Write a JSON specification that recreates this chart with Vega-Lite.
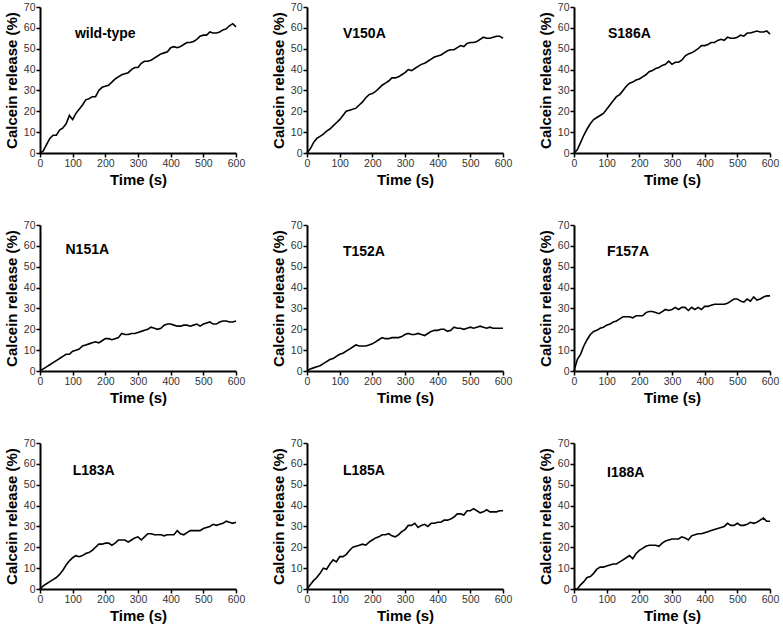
{
"$schema": "https://vega.github.io/schema/vega-lite/v6.json",
"background": "white",
"padding": {"left": 4, "top": 2, "right": 4, "bottom": 0},
"datasets": {"d": [
{"m":"wild-type","t":0,"v":0},{"m":"wild-type","t":10,"v":1},{"m":"wild-type","t":20,"v":4},{"m":"wild-type","t":30,"v":7},{"m":"wild-type","t":40,"v":8.5},{"m":"wild-type","t":50,"v":8.5},{"m":"wild-type","t":60,"v":11},{"m":"wild-type","t":70,"v":12},{"m":"wild-type","t":80,"v":14},{"m":"wild-type","t":90,"v":18},{"m":"wild-type","t":100,"v":16},{"m":"wild-type","t":110,"v":19},{"m":"wild-type","t":120,"v":21},{"m":"wild-type","t":130,"v":23},{"m":"wild-type","t":140,"v":25.5},{"m":"wild-type","t":150,"v":26},{"m":"wild-type","t":160,"v":27},{"m":"wild-type","t":170,"v":27},{"m":"wild-type","t":180,"v":30},{"m":"wild-type","t":190,"v":31.5},{"m":"wild-type","t":200,"v":32},{"m":"wild-type","t":210,"v":32.5},{"m":"wild-type","t":220,"v":34},{"m":"wild-type","t":230,"v":35.5},{"m":"wild-type","t":240,"v":36.5},{"m":"wild-type","t":250,"v":37.5},{"m":"wild-type","t":260,"v":38},{"m":"wild-type","t":270,"v":38.5},{"m":"wild-type","t":280,"v":40},{"m":"wild-type","t":290,"v":41},{"m":"wild-type","t":300,"v":41},{"m":"wild-type","t":310,"v":43},{"m":"wild-type","t":320,"v":44},{"m":"wild-type","t":330,"v":44},{"m":"wild-type","t":340,"v":44.5},{"m":"wild-type","t":350,"v":45.5},{"m":"wild-type","t":360,"v":46.5},{"m":"wild-type","t":370,"v":47.5},{"m":"wild-type","t":380,"v":48},{"m":"wild-type","t":390,"v":48.5},{"m":"wild-type","t":400,"v":50.5},{"m":"wild-type","t":410,"v":51},{"m":"wild-type","t":420,"v":50.5},{"m":"wild-type","t":430,"v":51},{"m":"wild-type","t":440,"v":52},{"m":"wild-type","t":450,"v":53},{"m":"wild-type","t":460,"v":53},{"m":"wild-type","t":470,"v":53.5},{"m":"wild-type","t":480,"v":54.5},{"m":"wild-type","t":490,"v":56},{"m":"wild-type","t":500,"v":56.5},{"m":"wild-type","t":510,"v":56.5},{"m":"wild-type","t":520,"v":58},{"m":"wild-type","t":530,"v":57.5},{"m":"wild-type","t":540,"v":57.5},{"m":"wild-type","t":550,"v":58},{"m":"wild-type","t":560,"v":59},{"m":"wild-type","t":570,"v":59.5},{"m":"wild-type","t":580,"v":61},{"m":"wild-type","t":590,"v":62},{"m":"wild-type","t":600,"v":60.5},
{"m":"V150A","t":0,"v":0},{"m":"V150A","t":10,"v":2},{"m":"V150A","t":20,"v":5},{"m":"V150A","t":30,"v":7},{"m":"V150A","t":40,"v":8},{"m":"V150A","t":50,"v":9},{"m":"V150A","t":60,"v":10.5},{"m":"V150A","t":70,"v":11.5},{"m":"V150A","t":80,"v":13},{"m":"V150A","t":90,"v":14.5},{"m":"V150A","t":100,"v":16},{"m":"V150A","t":110,"v":18},{"m":"V150A","t":120,"v":20},{"m":"V150A","t":130,"v":20.5},{"m":"V150A","t":140,"v":21},{"m":"V150A","t":150,"v":21.5},{"m":"V150A","t":160,"v":23},{"m":"V150A","t":170,"v":24.5},{"m":"V150A","t":180,"v":26.5},{"m":"V150A","t":190,"v":28},{"m":"V150A","t":200,"v":28.5},{"m":"V150A","t":210,"v":29.5},{"m":"V150A","t":220,"v":31},{"m":"V150A","t":230,"v":32.5},{"m":"V150A","t":240,"v":33.5},{"m":"V150A","t":250,"v":34.5},{"m":"V150A","t":260,"v":36},{"m":"V150A","t":270,"v":36},{"m":"V150A","t":280,"v":36.5},{"m":"V150A","t":290,"v":37.5},{"m":"V150A","t":300,"v":38.5},{"m":"V150A","t":310,"v":40},{"m":"V150A","t":320,"v":39.5},{"m":"V150A","t":330,"v":40.5},{"m":"V150A","t":340,"v":41.5},{"m":"V150A","t":350,"v":42.5},{"m":"V150A","t":360,"v":43},{"m":"V150A","t":370,"v":44},{"m":"V150A","t":380,"v":45},{"m":"V150A","t":390,"v":46},{"m":"V150A","t":400,"v":46.5},{"m":"V150A","t":410,"v":47},{"m":"V150A","t":420,"v":48},{"m":"V150A","t":430,"v":49},{"m":"V150A","t":440,"v":49.5},{"m":"V150A","t":450,"v":49.5},{"m":"V150A","t":460,"v":50.5},{"m":"V150A","t":470,"v":51.5},{"m":"V150A","t":480,"v":51},{"m":"V150A","t":490,"v":52.5},{"m":"V150A","t":500,"v":53},{"m":"V150A","t":510,"v":53},{"m":"V150A","t":520,"v":53.5},{"m":"V150A","t":530,"v":54.5},{"m":"V150A","t":540,"v":55.5},{"m":"V150A","t":550,"v":55},{"m":"V150A","t":560,"v":55},{"m":"V150A","t":570,"v":55.5},{"m":"V150A","t":580,"v":56},{"m":"V150A","t":590,"v":56},{"m":"V150A","t":600,"v":55},
{"m":"S186A","t":0,"v":0},{"m":"S186A","t":10,"v":1.5},{"m":"S186A","t":20,"v":5},{"m":"S186A","t":30,"v":8.5},{"m":"S186A","t":40,"v":11.5},{"m":"S186A","t":50,"v":14},{"m":"S186A","t":60,"v":16},{"m":"S186A","t":70,"v":17},{"m":"S186A","t":80,"v":18},{"m":"S186A","t":90,"v":19},{"m":"S186A","t":100,"v":21},{"m":"S186A","t":110,"v":23},{"m":"S186A","t":120,"v":25},{"m":"S186A","t":130,"v":27},{"m":"S186A","t":140,"v":28},{"m":"S186A","t":150,"v":30},{"m":"S186A","t":160,"v":32},{"m":"S186A","t":170,"v":33.5},{"m":"S186A","t":180,"v":34},{"m":"S186A","t":190,"v":35},{"m":"S186A","t":200,"v":35.5},{"m":"S186A","t":210,"v":36.5},{"m":"S186A","t":220,"v":37.5},{"m":"S186A","t":230,"v":39},{"m":"S186A","t":240,"v":39.5},{"m":"S186A","t":250,"v":40.5},{"m":"S186A","t":260,"v":41},{"m":"S186A","t":270,"v":42},{"m":"S186A","t":280,"v":42.5},{"m":"S186A","t":290,"v":44},{"m":"S186A","t":300,"v":42.5},{"m":"S186A","t":310,"v":43.5},{"m":"S186A","t":320,"v":43.5},{"m":"S186A","t":330,"v":44.5},{"m":"S186A","t":340,"v":46.5},{"m":"S186A","t":350,"v":47.5},{"m":"S186A","t":360,"v":48},{"m":"S186A","t":370,"v":49},{"m":"S186A","t":380,"v":50},{"m":"S186A","t":390,"v":51.5},{"m":"S186A","t":400,"v":51.5},{"m":"S186A","t":410,"v":52},{"m":"S186A","t":420,"v":53},{"m":"S186A","t":430,"v":53},{"m":"S186A","t":440,"v":54},{"m":"S186A","t":450,"v":54.5},{"m":"S186A","t":460,"v":54},{"m":"S186A","t":470,"v":55.5},{"m":"S186A","t":480,"v":55},{"m":"S186A","t":490,"v":55},{"m":"S186A","t":500,"v":55.5},{"m":"S186A","t":510,"v":56.5},{"m":"S186A","t":520,"v":56},{"m":"S186A","t":530,"v":57.5},{"m":"S186A","t":540,"v":57.5},{"m":"S186A","t":550,"v":58},{"m":"S186A","t":560,"v":58.5},{"m":"S186A","t":570,"v":58},{"m":"S186A","t":580,"v":58},{"m":"S186A","t":590,"v":58.5},{"m":"S186A","t":600,"v":57},
{"m":"N151A","t":0,"v":0},{"m":"N151A","t":10,"v":1},{"m":"N151A","t":20,"v":2},{"m":"N151A","t":30,"v":3},{"m":"N151A","t":40,"v":4},{"m":"N151A","t":50,"v":5},{"m":"N151A","t":60,"v":6},{"m":"N151A","t":70,"v":7},{"m":"N151A","t":80,"v":8},{"m":"N151A","t":90,"v":8},{"m":"N151A","t":100,"v":9.5},{"m":"N151A","t":110,"v":10},{"m":"N151A","t":120,"v":10.5},{"m":"N151A","t":130,"v":12},{"m":"N151A","t":140,"v":12.5},{"m":"N151A","t":150,"v":13},{"m":"N151A","t":160,"v":13.5},{"m":"N151A","t":170,"v":14},{"m":"N151A","t":180,"v":13.5},{"m":"N151A","t":190,"v":14.5},{"m":"N151A","t":200,"v":15.5},{"m":"N151A","t":210,"v":15.5},{"m":"N151A","t":220,"v":15},{"m":"N151A","t":230,"v":15.5},{"m":"N151A","t":240,"v":16},{"m":"N151A","t":250,"v":18},{"m":"N151A","t":260,"v":17.5},{"m":"N151A","t":270,"v":17.5},{"m":"N151A","t":280,"v":18},{"m":"N151A","t":290,"v":18},{"m":"N151A","t":300,"v":18.5},{"m":"N151A","t":310,"v":19},{"m":"N151A","t":320,"v":19.5},{"m":"N151A","t":330,"v":20},{"m":"N151A","t":340,"v":21},{"m":"N151A","t":350,"v":20.5},{"m":"N151A","t":360,"v":20},{"m":"N151A","t":370,"v":20.5},{"m":"N151A","t":380,"v":22},{"m":"N151A","t":390,"v":22.5},{"m":"N151A","t":400,"v":22.5},{"m":"N151A","t":410,"v":22},{"m":"N151A","t":420,"v":21.5},{"m":"N151A","t":430,"v":21.5},{"m":"N151A","t":440,"v":22},{"m":"N151A","t":450,"v":22},{"m":"N151A","t":460,"v":21.5},{"m":"N151A","t":470,"v":22},{"m":"N151A","t":480,"v":22.5},{"m":"N151A","t":490,"v":21.5},{"m":"N151A","t":500,"v":22.5},{"m":"N151A","t":510,"v":23},{"m":"N151A","t":520,"v":23.5},{"m":"N151A","t":530,"v":22.5},{"m":"N151A","t":540,"v":22.5},{"m":"N151A","t":550,"v":23.5},{"m":"N151A","t":560,"v":24},{"m":"N151A","t":570,"v":24},{"m":"N151A","t":580,"v":23.5},{"m":"N151A","t":590,"v":23.5},{"m":"N151A","t":600,"v":24},
{"m":"T152A","t":0,"v":0},{"m":"T152A","t":10,"v":1},{"m":"T152A","t":20,"v":1.5},{"m":"T152A","t":30,"v":2},{"m":"T152A","t":40,"v":2.5},{"m":"T152A","t":50,"v":3.5},{"m":"T152A","t":60,"v":4.5},{"m":"T152A","t":70,"v":5.5},{"m":"T152A","t":80,"v":6},{"m":"T152A","t":90,"v":7},{"m":"T152A","t":100,"v":8},{"m":"T152A","t":110,"v":8.5},{"m":"T152A","t":120,"v":9.5},{"m":"T152A","t":130,"v":10.5},{"m":"T152A","t":140,"v":11.5},{"m":"T152A","t":150,"v":12.5},{"m":"T152A","t":160,"v":12},{"m":"T152A","t":170,"v":12},{"m":"T152A","t":180,"v":12},{"m":"T152A","t":190,"v":12.5},{"m":"T152A","t":200,"v":13},{"m":"T152A","t":210,"v":14},{"m":"T152A","t":220,"v":15},{"m":"T152A","t":230,"v":16},{"m":"T152A","t":240,"v":15.5},{"m":"T152A","t":250,"v":15.5},{"m":"T152A","t":260,"v":16},{"m":"T152A","t":270,"v":16},{"m":"T152A","t":280,"v":16},{"m":"T152A","t":290,"v":16.5},{"m":"T152A","t":300,"v":17.5},{"m":"T152A","t":310,"v":18},{"m":"T152A","t":320,"v":17.5},{"m":"T152A","t":330,"v":17.5},{"m":"T152A","t":340,"v":18},{"m":"T152A","t":350,"v":17.5},{"m":"T152A","t":360,"v":17},{"m":"T152A","t":370,"v":18},{"m":"T152A","t":380,"v":19},{"m":"T152A","t":390,"v":19.5},{"m":"T152A","t":400,"v":19.5},{"m":"T152A","t":410,"v":20},{"m":"T152A","t":420,"v":20},{"m":"T152A","t":430,"v":19},{"m":"T152A","t":440,"v":19.5},{"m":"T152A","t":450,"v":21},{"m":"T152A","t":460,"v":20.5},{"m":"T152A","t":470,"v":20.5},{"m":"T152A","t":480,"v":20},{"m":"T152A","t":490,"v":20.5},{"m":"T152A","t":500,"v":21},{"m":"T152A","t":510,"v":20.5},{"m":"T152A","t":520,"v":21},{"m":"T152A","t":530,"v":21.5},{"m":"T152A","t":540,"v":21},{"m":"T152A","t":550,"v":20.5},{"m":"T152A","t":560,"v":21},{"m":"T152A","t":570,"v":20.5},{"m":"T152A","t":580,"v":20.5},{"m":"T152A","t":590,"v":20.5},{"m":"T152A","t":600,"v":20.5},
{"m":"F157A","t":0,"v":0},{"m":"F157A","t":10,"v":5.5},{"m":"F157A","t":20,"v":8},{"m":"F157A","t":30,"v":12},{"m":"F157A","t":40,"v":15},{"m":"F157A","t":50,"v":17.5},{"m":"F157A","t":60,"v":19},{"m":"F157A","t":70,"v":19.5},{"m":"F157A","t":80,"v":20.5},{"m":"F157A","t":90,"v":21},{"m":"F157A","t":100,"v":22},{"m":"F157A","t":110,"v":22.5},{"m":"F157A","t":120,"v":23.5},{"m":"F157A","t":130,"v":24},{"m":"F157A","t":140,"v":25},{"m":"F157A","t":150,"v":26},{"m":"F157A","t":160,"v":26},{"m":"F157A","t":170,"v":26},{"m":"F157A","t":180,"v":25.5},{"m":"F157A","t":190,"v":26.5},{"m":"F157A","t":200,"v":26.5},{"m":"F157A","t":210,"v":26.5},{"m":"F157A","t":220,"v":28},{"m":"F157A","t":230,"v":28.5},{"m":"F157A","t":240,"v":28.5},{"m":"F157A","t":250,"v":28},{"m":"F157A","t":260,"v":27.5},{"m":"F157A","t":270,"v":28.5},{"m":"F157A","t":280,"v":29.5},{"m":"F157A","t":290,"v":29},{"m":"F157A","t":300,"v":29.5},{"m":"F157A","t":310,"v":30.5},{"m":"F157A","t":320,"v":29.5},{"m":"F157A","t":330,"v":30.5},{"m":"F157A","t":340,"v":30.5},{"m":"F157A","t":350,"v":29},{"m":"F157A","t":360,"v":30.5},{"m":"F157A","t":370,"v":29.5},{"m":"F157A","t":380,"v":30.5},{"m":"F157A","t":390,"v":29.5},{"m":"F157A","t":400,"v":31},{"m":"F157A","t":410,"v":31},{"m":"F157A","t":420,"v":31.5},{"m":"F157A","t":430,"v":32},{"m":"F157A","t":440,"v":32},{"m":"F157A","t":450,"v":32},{"m":"F157A","t":460,"v":32},{"m":"F157A","t":470,"v":32.5},{"m":"F157A","t":480,"v":33.5},{"m":"F157A","t":490,"v":34.5},{"m":"F157A","t":500,"v":34.5},{"m":"F157A","t":510,"v":33.5},{"m":"F157A","t":520,"v":33},{"m":"F157A","t":530,"v":34.5},{"m":"F157A","t":540,"v":33.5},{"m":"F157A","t":550,"v":35.5},{"m":"F157A","t":560,"v":34},{"m":"F157A","t":570,"v":34.5},{"m":"F157A","t":580,"v":35.5},{"m":"F157A","t":590,"v":36},{"m":"F157A","t":600,"v":36},
{"m":"L183A","t":0,"v":0},{"m":"L183A","t":10,"v":1.5},{"m":"L183A","t":20,"v":2.5},{"m":"L183A","t":30,"v":3.5},{"m":"L183A","t":40,"v":4.5},{"m":"L183A","t":50,"v":5.5},{"m":"L183A","t":60,"v":7},{"m":"L183A","t":70,"v":9},{"m":"L183A","t":80,"v":11.5},{"m":"L183A","t":90,"v":13.5},{"m":"L183A","t":100,"v":15},{"m":"L183A","t":110,"v":16},{"m":"L183A","t":120,"v":15.5},{"m":"L183A","t":130,"v":16},{"m":"L183A","t":140,"v":17},{"m":"L183A","t":150,"v":17.5},{"m":"L183A","t":160,"v":18.5},{"m":"L183A","t":170,"v":20},{"m":"L183A","t":180,"v":21.5},{"m":"L183A","t":190,"v":21.5},{"m":"L183A","t":200,"v":22},{"m":"L183A","t":210,"v":22},{"m":"L183A","t":220,"v":21},{"m":"L183A","t":230,"v":22},{"m":"L183A","t":240,"v":23.5},{"m":"L183A","t":250,"v":23.5},{"m":"L183A","t":260,"v":23.5},{"m":"L183A","t":270,"v":22.5},{"m":"L183A","t":280,"v":23.5},{"m":"L183A","t":290,"v":24.5},{"m":"L183A","t":300,"v":25},{"m":"L183A","t":310,"v":23.5},{"m":"L183A","t":320,"v":25},{"m":"L183A","t":330,"v":26.5},{"m":"L183A","t":340,"v":26.5},{"m":"L183A","t":350,"v":26},{"m":"L183A","t":360,"v":26},{"m":"L183A","t":370,"v":26},{"m":"L183A","t":380,"v":25.5},{"m":"L183A","t":390,"v":26},{"m":"L183A","t":400,"v":26},{"m":"L183A","t":410,"v":26},{"m":"L183A","t":420,"v":28},{"m":"L183A","t":430,"v":26.5},{"m":"L183A","t":440,"v":26},{"m":"L183A","t":450,"v":27},{"m":"L183A","t":460,"v":28},{"m":"L183A","t":470,"v":28},{"m":"L183A","t":480,"v":28},{"m":"L183A","t":490,"v":28},{"m":"L183A","t":500,"v":29},{"m":"L183A","t":510,"v":29.5},{"m":"L183A","t":520,"v":30},{"m":"L183A","t":530,"v":31},{"m":"L183A","t":540,"v":30.5},{"m":"L183A","t":550,"v":31},{"m":"L183A","t":560,"v":31.5},{"m":"L183A","t":570,"v":32.5},{"m":"L183A","t":580,"v":32},{"m":"L183A","t":590,"v":31.5},{"m":"L183A","t":600,"v":32},
{"m":"L185A","t":0,"v":0},{"m":"L185A","t":10,"v":2},{"m":"L185A","t":20,"v":4},{"m":"L185A","t":30,"v":5.5},{"m":"L185A","t":40,"v":7.5},{"m":"L185A","t":50,"v":10},{"m":"L185A","t":60,"v":9.5},{"m":"L185A","t":70,"v":12},{"m":"L185A","t":80,"v":14},{"m":"L185A","t":90,"v":13},{"m":"L185A","t":100,"v":15.5},{"m":"L185A","t":110,"v":15.5},{"m":"L185A","t":120,"v":16.5},{"m":"L185A","t":130,"v":18.5},{"m":"L185A","t":140,"v":20},{"m":"L185A","t":150,"v":20.5},{"m":"L185A","t":160,"v":21},{"m":"L185A","t":170,"v":21.5},{"m":"L185A","t":180,"v":21},{"m":"L185A","t":190,"v":22.5},{"m":"L185A","t":200,"v":23.5},{"m":"L185A","t":210,"v":24.5},{"m":"L185A","t":220,"v":25},{"m":"L185A","t":230,"v":26},{"m":"L185A","t":240,"v":26},{"m":"L185A","t":250,"v":26.5},{"m":"L185A","t":260,"v":25.5},{"m":"L185A","t":270,"v":25},{"m":"L185A","t":280,"v":26},{"m":"L185A","t":290,"v":27.5},{"m":"L185A","t":300,"v":28.5},{"m":"L185A","t":310,"v":30.5},{"m":"L185A","t":320,"v":30.5},{"m":"L185A","t":330,"v":31.5},{"m":"L185A","t":340,"v":29.5},{"m":"L185A","t":350,"v":30.5},{"m":"L185A","t":360,"v":31},{"m":"L185A","t":370,"v":30},{"m":"L185A","t":380,"v":31.5},{"m":"L185A","t":390,"v":31.5},{"m":"L185A","t":400,"v":32},{"m":"L185A","t":410,"v":32},{"m":"L185A","t":420,"v":33},{"m":"L185A","t":430,"v":33},{"m":"L185A","t":440,"v":33.5},{"m":"L185A","t":450,"v":34.5},{"m":"L185A","t":460,"v":36},{"m":"L185A","t":470,"v":36},{"m":"L185A","t":480,"v":35.5},{"m":"L185A","t":490,"v":37.5},{"m":"L185A","t":500,"v":37.5},{"m":"L185A","t":510,"v":38.5},{"m":"L185A","t":520,"v":37.5},{"m":"L185A","t":530,"v":36.5},{"m":"L185A","t":540,"v":37},{"m":"L185A","t":550,"v":38},{"m":"L185A","t":560,"v":37},{"m":"L185A","t":570,"v":37},{"m":"L185A","t":580,"v":37},{"m":"L185A","t":590,"v":37.5},{"m":"L185A","t":600,"v":37.5},
{"m":"I188A","t":0,"v":0},{"m":"I188A","t":10,"v":0},{"m":"I188A","t":20,"v":2},{"m":"I188A","t":30,"v":3.5},{"m":"I188A","t":40,"v":5.5},{"m":"I188A","t":50,"v":6},{"m":"I188A","t":60,"v":7.5},{"m":"I188A","t":70,"v":9.5},{"m":"I188A","t":80,"v":10.5},{"m":"I188A","t":90,"v":10.5},{"m":"I188A","t":100,"v":11},{"m":"I188A","t":110,"v":11.5},{"m":"I188A","t":120,"v":12},{"m":"I188A","t":130,"v":12},{"m":"I188A","t":140,"v":13},{"m":"I188A","t":150,"v":14},{"m":"I188A","t":160,"v":15},{"m":"I188A","t":170,"v":16},{"m":"I188A","t":180,"v":14.5},{"m":"I188A","t":190,"v":17},{"m":"I188A","t":200,"v":18.5},{"m":"I188A","t":210,"v":19.5},{"m":"I188A","t":220,"v":20.5},{"m":"I188A","t":230,"v":21},{"m":"I188A","t":240,"v":21},{"m":"I188A","t":250,"v":21},{"m":"I188A","t":260,"v":20.5},{"m":"I188A","t":270,"v":22},{"m":"I188A","t":280,"v":23},{"m":"I188A","t":290,"v":23.5},{"m":"I188A","t":300,"v":24},{"m":"I188A","t":310,"v":24},{"m":"I188A","t":320,"v":24},{"m":"I188A","t":330,"v":25},{"m":"I188A","t":340,"v":24.5},{"m":"I188A","t":350,"v":23.5},{"m":"I188A","t":360,"v":25.5},{"m":"I188A","t":370,"v":26},{"m":"I188A","t":380,"v":26.5},{"m":"I188A","t":390,"v":26.5},{"m":"I188A","t":400,"v":27},{"m":"I188A","t":410,"v":27.5},{"m":"I188A","t":420,"v":28},{"m":"I188A","t":430,"v":28.5},{"m":"I188A","t":440,"v":29},{"m":"I188A","t":450,"v":29.5},{"m":"I188A","t":460,"v":30},{"m":"I188A","t":470,"v":31.5},{"m":"I188A","t":480,"v":30.5},{"m":"I188A","t":490,"v":30.5},{"m":"I188A","t":500,"v":31.5},{"m":"I188A","t":510,"v":30.5},{"m":"I188A","t":520,"v":30.5},{"m":"I188A","t":530,"v":31},{"m":"I188A","t":540,"v":32},{"m":"I188A","t":550,"v":31.5},{"m":"I188A","t":560,"v":32},{"m":"I188A","t":570,"v":33},{"m":"I188A","t":580,"v":34},{"m":"I188A","t":590,"v":32.5},{"m":"I188A","t":600,"v":32.5}
]},
"data": {"name": "d"},
"columns": 3,
"spacing": {"column": 26, "row": 32},
"concat": [
{"transform": [{"filter": "datum.m == 'wild-type'"}], "width": 196, "height": 146, "layer": [
 {"mark": "line", "encoding": {"x": {"field": "t", "type": "quantitative", "scale": {"domain": [0, 600], "nice": false}, "axis": {"values": [0,100,200,300,400,500,600]}, "title": "Time (s)"}, "y": {"field": "v", "type": "quantitative", "scale": {"domain": [0, 70], "nice": false}, "axis": {"values": [0,10,20,30,40,50,60,70]}, "title": "Calcein release  (%)"}}},
 {"transform": [{"filter": "datum.t == 0"}], "mark": "text", "encoding": {"x": {"datum": 107, "type": "quantitative", "axis": {"values": [0,100,200,300,400,500,600]}}, "y": {"datum": 57, "type": "quantitative", "axis": {"values": [0,10,20,30,40,50,60,70]}}, "text": {"field": "m"}}}
]},
{"transform": [{"filter": "datum.m == 'V150A'"}], "width": 196, "height": 146, "layer": [
 {"mark": "line", "encoding": {"x": {"field": "t", "type": "quantitative", "scale": {"domain": [0, 600], "nice": false}, "axis": {"values": [0,100,200,300,400,500,600]}, "title": "Time (s)"}, "y": {"field": "v", "type": "quantitative", "scale": {"domain": [0, 70], "nice": false}, "axis": {"values": [0,10,20,30,40,50,60,70]}, "title": "Calcein release  (%)"}}},
 {"transform": [{"filter": "datum.t == 0"}], "mark": "text", "encoding": {"x": {"datum": 110, "type": "quantitative", "axis": {"values": [0,100,200,300,400,500,600]}}, "y": {"datum": 57, "type": "quantitative", "axis": {"values": [0,10,20,30,40,50,60,70]}}, "text": {"field": "m"}}}
]},
{"transform": [{"filter": "datum.m == 'S186A'"}], "width": 196, "height": 146, "layer": [
 {"mark": "line", "encoding": {"x": {"field": "t", "type": "quantitative", "scale": {"domain": [0, 600], "nice": false}, "axis": {"values": [0,100,200,300,400,500,600]}, "title": "Time (s)"}, "y": {"field": "v", "type": "quantitative", "scale": {"domain": [0, 70], "nice": false}, "axis": {"values": [0,10,20,30,40,50,60,70]}, "title": "Calcein release  (%)"}}},
 {"transform": [{"filter": "datum.t == 0"}], "mark": "text", "encoding": {"x": {"datum": 104, "type": "quantitative", "axis": {"values": [0,100,200,300,400,500,600]}}, "y": {"datum": 57, "type": "quantitative", "axis": {"values": [0,10,20,30,40,50,60,70]}}, "text": {"field": "m"}}}
]},
{"transform": [{"filter": "datum.m == 'N151A'"}], "width": 196, "height": 146, "layer": [
 {"mark": "line", "encoding": {"x": {"field": "t", "type": "quantitative", "scale": {"domain": [0, 600], "nice": false}, "axis": {"values": [0,100,200,300,400,500,600]}, "title": "Time (s)"}, "y": {"field": "v", "type": "quantitative", "scale": {"domain": [0, 70], "nice": false}, "axis": {"values": [0,10,20,30,40,50,60,70]}, "title": "Calcein release  (%)"}}},
 {"transform": [{"filter": "datum.t == 0"}], "mark": "text", "encoding": {"x": {"datum": 78, "type": "quantitative", "axis": {"values": [0,100,200,300,400,500,600]}}, "y": {"datum": 58, "type": "quantitative", "axis": {"values": [0,10,20,30,40,50,60,70]}}, "text": {"field": "m"}}}
]},
{"transform": [{"filter": "datum.m == 'T152A'"}], "width": 196, "height": 146, "layer": [
 {"mark": "line", "encoding": {"x": {"field": "t", "type": "quantitative", "scale": {"domain": [0, 600], "nice": false}, "axis": {"values": [0,100,200,300,400,500,600]}, "title": "Time (s)"}, "y": {"field": "v", "type": "quantitative", "scale": {"domain": [0, 70], "nice": false}, "axis": {"values": [0,10,20,30,40,50,60,70]}, "title": "Calcein release  (%)"}}},
 {"transform": [{"filter": "datum.t == 0"}], "mark": "text", "encoding": {"x": {"datum": 110, "type": "quantitative", "axis": {"values": [0,100,200,300,400,500,600]}}, "y": {"datum": 57, "type": "quantitative", "axis": {"values": [0,10,20,30,40,50,60,70]}}, "text": {"field": "m"}}}
]},
{"transform": [{"filter": "datum.m == 'F157A'"}], "width": 196, "height": 146, "layer": [
 {"mark": "line", "encoding": {"x": {"field": "t", "type": "quantitative", "scale": {"domain": [0, 600], "nice": false}, "axis": {"values": [0,100,200,300,400,500,600]}, "title": "Time (s)"}, "y": {"field": "v", "type": "quantitative", "scale": {"domain": [0, 70], "nice": false}, "axis": {"values": [0,10,20,30,40,50,60,70]}, "title": "Calcein release  (%)"}}},
 {"transform": [{"filter": "datum.t == 0"}], "mark": "text", "encoding": {"x": {"datum": 101, "type": "quantitative", "axis": {"values": [0,100,200,300,400,500,600]}}, "y": {"datum": 57, "type": "quantitative", "axis": {"values": [0,10,20,30,40,50,60,70]}}, "text": {"field": "m"}}}
]},
{"transform": [{"filter": "datum.m == 'L183A'"}], "width": 196, "height": 146, "layer": [
 {"mark": "line", "encoding": {"x": {"field": "t", "type": "quantitative", "scale": {"domain": [0, 600], "nice": false}, "axis": {"values": [0,100,200,300,400,500,600]}, "title": "Time (s)"}, "y": {"field": "v", "type": "quantitative", "scale": {"domain": [0, 70], "nice": false}, "axis": {"values": [0,10,20,30,40,50,60,70]}, "title": "Calcein release  (%)"}}},
 {"transform": [{"filter": "datum.t == 0"}], "mark": "text", "encoding": {"x": {"datum": 100, "type": "quantitative", "axis": {"values": [0,100,200,300,400,500,600]}}, "y": {"datum": 56.5, "type": "quantitative", "axis": {"values": [0,10,20,30,40,50,60,70]}}, "text": {"field": "m"}}}
]},
{"transform": [{"filter": "datum.m == 'L185A'"}], "width": 196, "height": 146, "layer": [
 {"mark": "line", "encoding": {"x": {"field": "t", "type": "quantitative", "scale": {"domain": [0, 600], "nice": false}, "axis": {"values": [0,100,200,300,400,500,600]}, "title": "Time (s)"}, "y": {"field": "v", "type": "quantitative", "scale": {"domain": [0, 70], "nice": false}, "axis": {"values": [0,10,20,30,40,50,60,70]}, "title": "Calcein release  (%)"}}},
 {"transform": [{"filter": "datum.t == 0"}], "mark": "text", "encoding": {"x": {"datum": 110, "type": "quantitative", "axis": {"values": [0,100,200,300,400,500,600]}}, "y": {"datum": 56.5, "type": "quantitative", "axis": {"values": [0,10,20,30,40,50,60,70]}}, "text": {"field": "m"}}}
]},
{"transform": [{"filter": "datum.m == 'I188A'"}], "width": 196, "height": 146, "layer": [
 {"mark": "line", "encoding": {"x": {"field": "t", "type": "quantitative", "scale": {"domain": [0, 600], "nice": false}, "axis": {"values": [0,100,200,300,400,500,600]}, "title": "Time (s)"}, "y": {"field": "v", "type": "quantitative", "scale": {"domain": [0, 70], "nice": false}, "axis": {"values": [0,10,20,30,40,50,60,70]}, "title": "Calcein release  (%)"}}},
 {"transform": [{"filter": "datum.t == 0"}], "mark": "text", "encoding": {"x": {"datum": 101, "type": "quantitative", "axis": {"values": [0,100,200,300,400,500,600]}}, "y": {"datum": 55.5, "type": "quantitative", "axis": {"values": [0,10,20,30,40,50,60,70]}}, "text": {"field": "m"}}}
]}
],
"config": {
  "view": {"stroke": null},
  "line": {"color": "black", "strokeWidth": 1.6},
  "text": {"font": "Liberation Sans", "fontWeight": "bold", "fontSize": 14, "align": "left", "baseline": "middle", "color": "black"},
  "axis": {"grid": false, "labelOverlap": false, "labelFlush": false, "labelBound": false, "domainColor": "black", "domainWidth": 2, "tickColor": "black", "tickWidth": 1.5, "tickSize": 4, "labelFont": "Liberation Sans", "labelFontSize": 10.5, "labelColor": "#333333", "labelPadding": 1, "titleFont": "Liberation Sans", "titleFontSize": 15, "titleFontWeight": "bold", "titleColor": "black", "titlePadding": 4}
}
}
